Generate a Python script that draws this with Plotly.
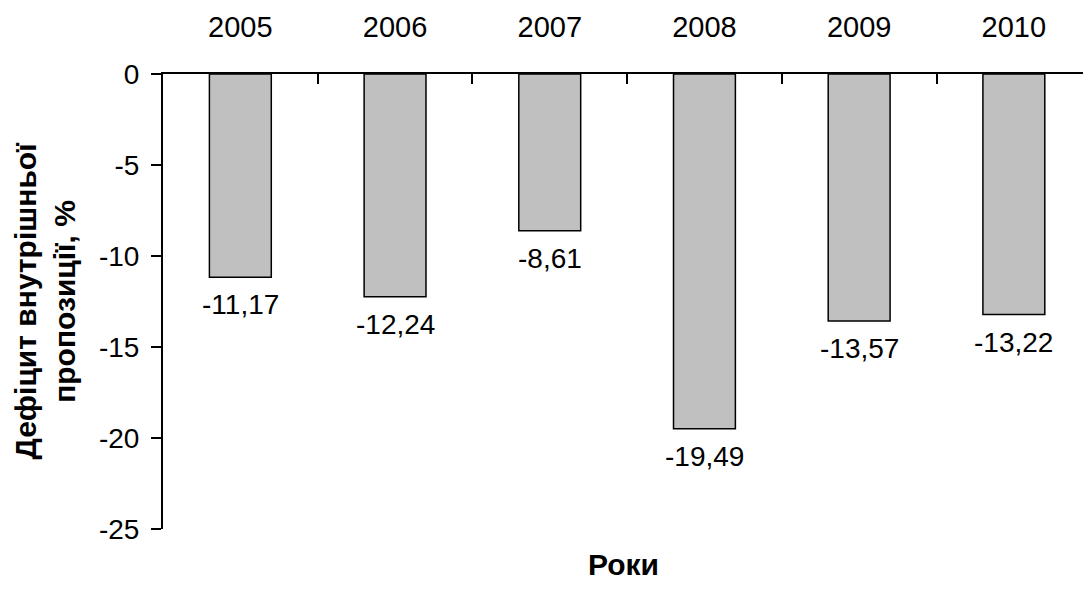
import plotly.graph_objects as go

years = ["2005", "2006", "2007", "2008", "2009", "2010"]
deficit = [-11.17, -12.24, -8.61, -19.49, -13.57, -13.22]
y_ticks = [0, -5, -10, -15, -20, -25]

FONT = "Arial, 'Liberation Sans', sans-serif"
FS = 28
TFS = 30

fig = go.Figure()
fig.add_trace(go.Bar(
    x=years, y=deficit, width=0.4,
    marker=dict(color="#C0C0C0", line=dict(color="black", width=1.5)),
    showlegend=False, hoverinfo="skip",
))

for i, v in enumerate(deficit):
    fig.add_annotation(x=i, y=v, xref="x", yref="y",
                       text=f"{v:.2f}".replace(".", ","),
                       showarrow=False, yanchor="top", yshift=-10,
                       font=dict(family=FONT, size=FS, color="black"))

fig.update_layout(
    width=1083, height=594,
    margin=dict(l=163, r=0, t=74, b=65),
    paper_bgcolor="white", plot_bgcolor="white",
    font=dict(family=FONT, size=FS, color="black"),
    bargap=0.6,
    xaxis=dict(
        type="category", side="top", range=[-0.5, 5.447],
        showline=True, linecolor="black", linewidth=2,
        ticks="inside", ticklen=10, tickwidth=2, tickcolor="black",
        tickson="boundaries", ticklabelstandoff=23,
        tickfont=dict(family=FONT, size=29),
        showgrid=False, zeroline=False,
        title=None,
    ),
    yaxis=dict(
        range=[-25, 0], tickvals=y_ticks,
        ticktext=[str(t) for t in y_ticks],
        showline=True, linecolor="black", linewidth=2,
        ticks="outside", ticklen=10, tickwidth=2, tickcolor="black",
        ticklabelstandoff=6,
        tickfont=dict(family=FONT, size=FS),
        showgrid=False, zeroline=False,
        title=dict(text="<b>Дефіцит внутрішньої<br>пропозиції, %</b>",
                   font=dict(family=FONT, size=TFS), standoff=14),
    ),
)

fig.add_annotation(x=0.5, y=-0.037, xref="paper", yref="paper",
                   text="<b>Роки</b>", showarrow=False, yanchor="top",
                   font=dict(family=FONT, size=TFS, color="black"))

fig.write_html("out.html")
